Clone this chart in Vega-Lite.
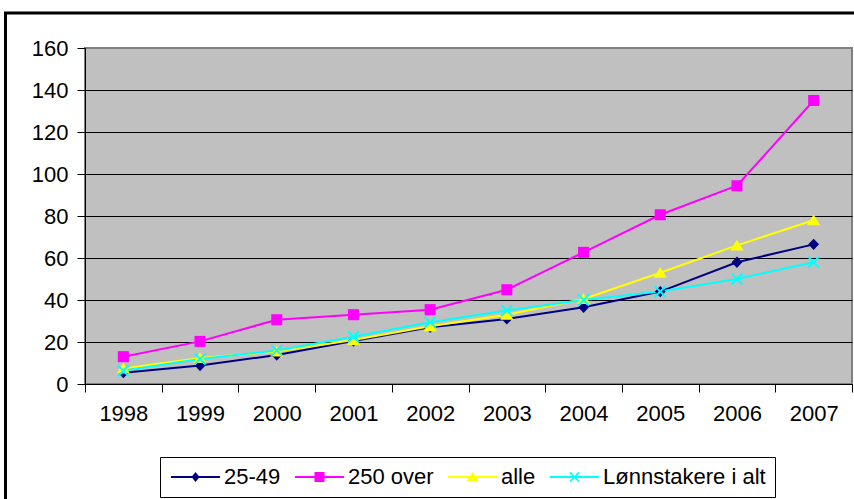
{
  "$schema": "https://vega.github.io/schema/vega-lite/v6.json",
  "width": 767,
  "height": 336,
  "autosize": {"type": "none"},
  "padding": {"left": 85, "top": 48, "right": 2, "bottom": 115},
  "background": "white",
  "view": {"fill": "#c0c0c0", "stroke": "#808080", "strokeWidth": 2},
  "data": {
    "values": [
      {"year": "1998", "series": "25-49", "value": 5.4},
      {"year": "1999", "series": "25-49", "value": 8.8},
      {"year": "2000", "series": "25-49", "value": 13.8},
      {"year": "2001", "series": "25-49", "value": 20.5},
      {"year": "2002", "series": "25-49", "value": 27},
      {"year": "2003", "series": "25-49", "value": 31},
      {"year": "2004", "series": "25-49", "value": 36.5},
      {"year": "2005", "series": "25-49", "value": 44},
      {"year": "2006", "series": "25-49", "value": 58},
      {"year": "2007", "series": "25-49", "value": 66.5},
      {"year": "1998", "series": "250 over", "value": 13},
      {"year": "1999", "series": "250 over", "value": 20.3},
      {"year": "2000", "series": "250 over", "value": 30.6},
      {"year": "2001", "series": "250 over", "value": 33},
      {"year": "2002", "series": "250 over", "value": 35.4},
      {"year": "2003", "series": "250 over", "value": 44.9},
      {"year": "2004", "series": "250 over", "value": 62.7},
      {"year": "2005", "series": "250 over", "value": 80.6},
      {"year": "2006", "series": "250 over", "value": 94.4},
      {"year": "2007", "series": "250 over", "value": 135},
      {"year": "1998", "series": "alle", "value": 7.4},
      {"year": "1999", "series": "alle", "value": 12.4},
      {"year": "2000", "series": "alle", "value": 15.5},
      {"year": "2001", "series": "alle", "value": 21},
      {"year": "2002", "series": "alle", "value": 27.5},
      {"year": "2003", "series": "alle", "value": 33},
      {"year": "2004", "series": "alle", "value": 40.5},
      {"year": "2005", "series": "alle", "value": 53},
      {"year": "2006", "series": "alle", "value": 66},
      {"year": "2007", "series": "alle", "value": 78},
      {"year": "1998", "series": "Lønnstakere i alt", "value": 6.3},
      {"year": "1999", "series": "Lønnstakere i alt", "value": 11.9},
      {"year": "2000", "series": "Lønnstakere i alt", "value": 16},
      {"year": "2001", "series": "Lønnstakere i alt", "value": 22.5},
      {"year": "2002", "series": "Lønnstakere i alt", "value": 29.4},
      {"year": "2003", "series": "Lønnstakere i alt", "value": 35},
      {"year": "2004", "series": "Lønnstakere i alt", "value": 40},
      {"year": "2005", "series": "Lønnstakere i alt", "value": 44},
      {"year": "2006", "series": "Lønnstakere i alt", "value": 50},
      {"year": "2007", "series": "Lønnstakere i alt", "value": 58}
    ]
  },
  "encoding": {
    "x": {
      "field": "year",
      "type": "ordinal",
      "scale": {"type": "band", "paddingInner": 0, "paddingOuter": 0},
      "axis": {
        "title": null,
        "labelAngle": 0,
        "tickBand": "extent",
        "tickSize": 8,
        "labelPadding": 11,
        "grid": false,
        "domainWidth": 1
      }
    },
    "y": {
      "field": "value",
      "type": "quantitative",
      "scale": {"domain": [0, 160], "nice": false},
      "axis": {
        "title": null,
        "values": [0, 20, 40, 60, 80, 100, 120, 140, 160],
        "tickSize": 8,
        "labelPadding": 9,
        "grid": true,
        "gridColor": {"condition": {"test": "datum.value === 160", "value": "#808080"}, "value": "black"},
        "gridWidth": 1,
        "domainWidth": 1
      }
    }
  },
  "layer": [
    {
      "mark": {"type": "point", "filled": true, "strokeWidth": 0, "size": 4, "opacity": 1},
      "encoding": {
        "fill": {
          "field": "value",
          "type": "quantitative",
          "scale": {"range": ["rgba(255,255,255,0)", "rgba(255,255,255,0)"]},
          "legend": {
            "type": "gradient",
            "direction": "vertical",
            "orient": "none",
            "legendX": -79.5,
            "legendY": -35,
            "gradientLength": 540,
            "gradientThickness": 900,
            "gradientStrokeColor": "black",
            "gradientStrokeWidth": 3,
            "gradientOpacity": 1,
            "title": null,
            "padding": 0,
            "labelOpacity": 0,
            "labelExpr": "''"
          }
        }
      }
    },
    {
      "mark": {"type": "line", "strokeWidth": 2},
      "encoding": {
        "color": {
          "field": "series",
          "type": "nominal",
          "scale": {
            "domain": ["25-49", "250 over", "alle", "Lønnstakere i alt"],
            "range": ["#000080", "#ff00ff", "#ffff00", "#00ffff"]
          },
          "legend": {
            "orient": "none",
            "direction": "horizontal",
            "legendX": 75,
            "legendY": 409,
            "title": null,
            "strokeColor": "black",
            "fillColor": "white",
            "padding": 9,
            "columnPadding": 12,
            "labelOffset": 33,
            "labelFont": "Liberation Sans",
            "labelFontSize": 22,
            "labelColor": "black",
            "labelLimit": 0,
            "symbolSize": 100,
            "encode": {
              "symbols": {
                "update": {
                  "shape": {"signal": "'M-1.8,-0.2L8,-0.2L8,0.2L-1.8,0.2Z' + (datum.value === '25-49' ? 'M3.1,-1L3.9,0L3.1,1L2.3,0Z' : datum.value === '250 over' ? 'M2.1,-1L4.1,-1L4.1,1L2.1,1Z' : datum.value === 'alle' ? 'M3.1,-1L4.3,0.8L1.9,0.8Z' : 'M4.13,-0.81L3.33,0L4.13,0.81L3.91,1.03L3.1,0.23L2.29,1.03L2.07,0.81L2.87,0L2.07,-0.81L2.29,-1.03L3.1,-0.23L3.91,-1.03Z')"},
                  "fill": {"scale": "color", "field": "value"},
                  "stroke": {"value": "transparent"},
                  "strokeWidth": {"value": 0},
                  "size": {"value": 100},
                  "opacity": {"value": 1}
                }
              }
            }
          }
        }
      }
    },
    {
      "transform": [{"filter": "datum.series === '25-49'"}],
      "mark": {"type": "point", "filled": true, "size": 144, "opacity": 1, "shape": "M0,-0.95L0.9,0L0,0.95L-0.9,0Z"},
      "encoding": {"color": {"field": "series", "type": "nominal"}}
    },
    {
      "transform": [{"filter": "datum.series === '250 over'"}],
      "mark": {"type": "point", "filled": true, "size": 144, "opacity": 1, "shape": "M-0.92,-0.92L0.92,-0.92L0.92,0.92L-0.92,0.92Z"},
      "encoding": {"color": {"field": "series", "type": "nominal"}}
    },
    {
      "transform": [{"filter": "datum.series === 'alle'"}],
      "mark": {"type": "point", "filled": true, "size": 144, "opacity": 1, "shape": "M0,-0.95L1.1,0.85L-1.1,0.85Z"},
      "encoding": {"color": {"field": "series", "type": "nominal"}}
    },
    {
      "transform": [{"filter": "datum.series === 'Lønnstakere i alt'"}],
      "mark": {"type": "point", "filled": true, "size": 144, "opacity": 1, "shape": "M1.03,-0.81L0.23,0L1.03,0.81L0.81,1.03L0,0.23L-0.81,1.03L-1.03,0.81L-0.23,0L-1.03,-0.81L-0.81,-1.03L0,-0.23L0.81,-1.03Z"},
      "encoding": {"color": {"field": "series", "type": "nominal"}}
    }
  ],
  "config": {
    "axis": {
      "labelFont": "Liberation Sans",
      "labelFontSize": 22,
      "labelColor": "black",
      "tickColor": "black",
      "domainColor": "black"
    }
  }
}
